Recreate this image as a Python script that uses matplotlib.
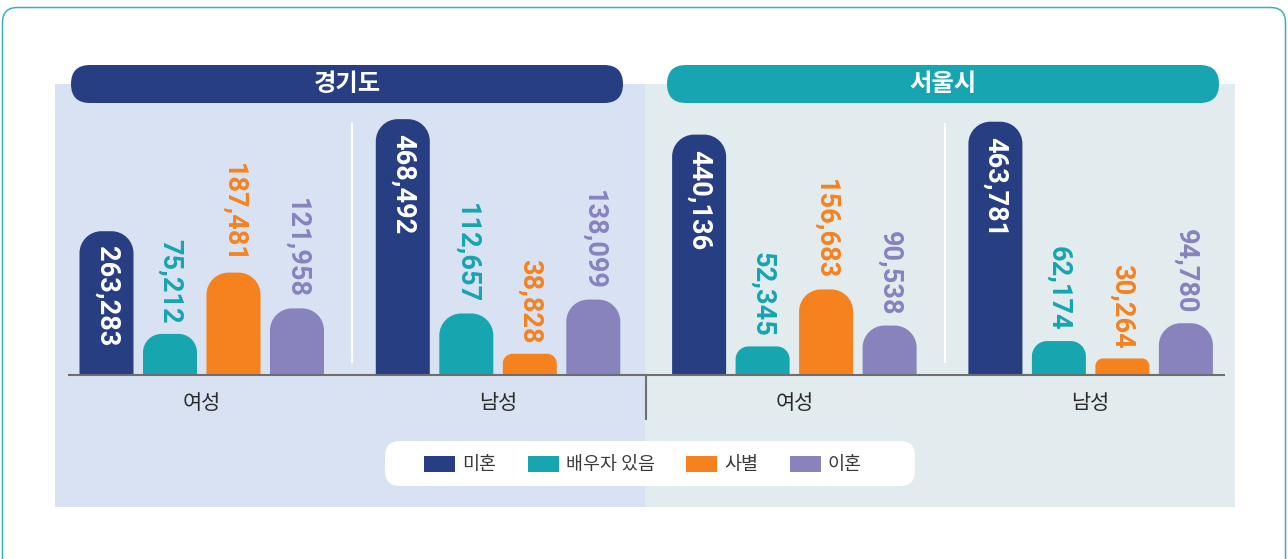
import matplotlib
matplotlib.use('Agg')
import matplotlib.pyplot as plt
from matplotlib.patches import FancyBboxPatch, PathPatch, Patch, Rectangle
from matplotlib.path import Path

plt.rcParams['font.family'] = ['Noto Sans CJK KR', 'DejaVu Sans']

# ---------------- data ----------------
regions = ['경기도', '서울시']
genders = ['여성', '남성']
statuses = ['미혼', '배우자 있음', '사별', '이혼']
gyeonggi_female = [263283, 75212, 187481, 121958]
gyeonggi_male = [468492, 112657, 38828, 138099]
seoul_female = [440136, 52345, 156683, 90538]
seoul_male = [463781, 62174, 30264, 94780]
groups = [gyeonggi_female, gyeonggi_male, seoul_female, seoul_male]
group_labels = genders + genders

colors = ['#283e82', '#17a5b0', '#f5821f', '#8882bd']
header_colors = ['#283e82', '#17a6b1']
panel_colors = ['#d9e2f3', '#e2ebee']

# ---------------- figure ----------------
W, H = 1288, 559
fig = plt.figure(figsize=(W / 100, H / 100), dpi=100)
fig.patch.set_facecolor('white')

bg = fig.add_axes([0, 0, 1, 1])
bg.set_xlim(0, W)
bg.set_ylim(H, 0)
bg.axis('off')

# outer border
bg.add_patch(FancyBboxPatch((2.5, 7.5), 1283, 600,
                            boxstyle='round,pad=0,rounding_size=15',
                            fc='white', ec='#3ab0b9', lw=1.1))
# panels
bg.add_patch(Rectangle((55, 84), 590, 423, fc=panel_colors[0], ec='none'))
bg.add_patch(Rectangle((645, 84), 590, 423, fc=panel_colors[1], ec='none'))

# header pills
for k, (name, hc) in enumerate(zip(regions, header_colors)):
    x0 = 71 + k * 596
    bg.add_patch(FancyBboxPatch((x0, 65), 552, 38,
                                boxstyle='round,pad=0,rounding_size=19',
                                fc=hc, ec='none'))
    bg.text(x0 + 276, 84, name, ha='center', va='center', color='white',
            fontsize=17.5, fontweight='bold')

# legend box
bg.add_patch(FancyBboxPatch((385, 441), 530, 45,
                            boxstyle='round,pad=0,rounding_size=15',
                            fc='white', ec='none'))
# divider between regions
bg.plot([646.5, 646.5], [375, 420], color='#707070', lw=1.5,
        solid_capstyle='butt')

# ---------------- bars ----------------
AX_H_PX = 290
YMAX = 531000
ax = fig.add_axes([55 / W, (H - 375) / H, 1180 / W, AX_H_PX / H])
ax.set_xlim(0, 1180)
ax.set_ylim(0, YMAX)
ax.axis('off')
ax.patch.set_alpha(0)

sy = AX_H_PX / YMAX  # px per value unit
bar_w = 54
step = 63.5
gstep = 296.3
first = 51.5
K = 0.5523


def rounded_bar(x, h, color):
    h_px = h * sy
    r = min(22, 0.45 * h_px, bar_w / 2)
    rx, ry = r, r / sy
    x0, x1 = x - bar_w / 2, x + bar_w / 2
    verts = [(x0, 0), (x0, h - ry),
             (x0, h - ry + K * ry), (x0 + rx - K * rx, h), (x0 + rx, h),
             (x1 - rx, h),
             (x1 - rx + K * rx, h), (x1, h - ry + K * ry), (x1, h - ry),
             (x1, 0), (x0, 0)]
    codes = [Path.MOVETO, Path.LINETO,
             Path.CURVE4, Path.CURVE4, Path.CURVE4,
             Path.LINETO,
             Path.CURVE4, Path.CURVE4, Path.CURVE4,
             Path.LINETO, Path.CLOSEPOLY]
    ax.add_patch(PathPatch(Path(verts, codes), fc=color, ec='none', zorder=2))


centers = []
for g, vals in enumerate(groups):
    xs = [first + g * gstep + i * step for i in range(len(vals))]
    centers.append(sum(xs) / len(xs))
    for i, (x, v) in enumerate(zip(xs, vals)):
        rounded_bar(x, v, colors[i])
        txt = f'{v:,}'
        if i == 0:
            ax.annotate(txt, xy=(x, v), xytext=(0, -15), textcoords='offset pixels',
                        ha='center', va='top', rotation=-90, color='white',
                        fontsize=19.5, fontweight='bold', family='Roboto', zorder=4)
        else:
            ax.annotate(txt, xy=(x, v), xytext=(0, 10), textcoords='offset pixels',
                        ha='center', va='bottom', rotation=-90, color=colors[i],
                        fontsize=19.5, fontweight='bold', family='Roboto', zorder=4)
    ax.annotate(group_labels[g], xy=(centers[-1], 0), xytext=(0, -28),
                textcoords='offset pixels', ha='center', va='center',
                fontsize=15, color='#2b2b2b', annotation_clip=False)

# white separators between gender groups within each region
for g in (0, 2):
    right_edge = first + g * gstep + 3 * step + bar_w / 2
    left_edge = first + (g + 1) * gstep - bar_w / 2
    xm = (right_edge + left_edge) / 2 + 2
    ax.plot([xm, xm], [12 / sy, 252 / sy], color='white', lw=1.5, zorder=1,
            solid_capstyle='butt')

# baseline
ax.plot([13, 1170], [0, 0], color='#6e6e6e', lw=1.5, clip_on=False, zorder=3,
        solid_capstyle='butt')

# legend
handles = [Patch(fc=c, ec='none', label=s) for c, s in zip(colors, statuses)]
fig.legend(handles=handles, loc='center', bbox_to_anchor=(643 / W, 1 - 465 / H),
           ncol=4, frameon=False, fontsize=13.3, handlelength=1.68,
           handleheight=0.97, handletextpad=0.38, columnspacing=1.7,
           labelcolor='#3a3a3a')

fig.savefig('out.png', dpi=100)
